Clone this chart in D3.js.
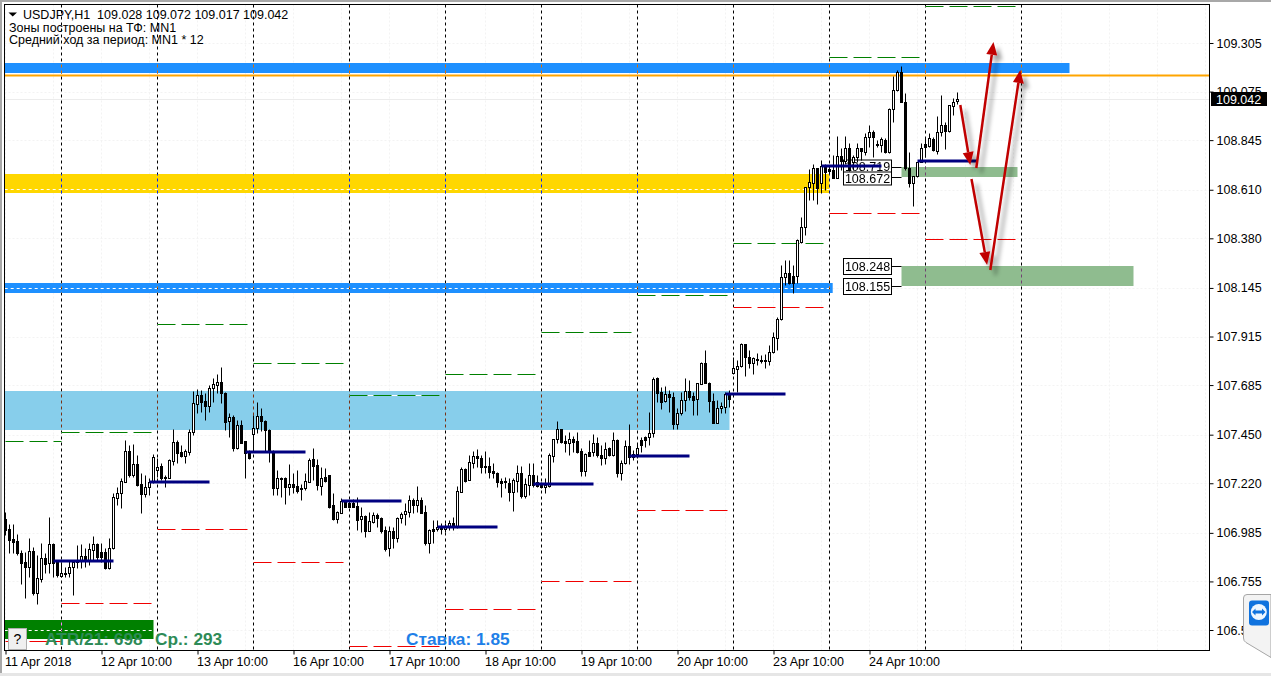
<!DOCTYPE html>
<html><head><meta charset="utf-8">
<script src="https://cdnjs.cloudflare.com/ajax/libs/d3/7.8.5/d3.min.js"></script>
<style>
html,body{margin:0;padding:0;background:#fff;overflow:hidden}
svg{display:block}
text{font-family:"Liberation Sans",Arial,sans-serif;font-size:12.5px;fill:#000;white-space:pre}
</style></head><body>
<svg id="c" width="1271" height="676"></svg>
<script>
const opens=[107.051,107.004,106.956,106.947,106.890,106.847,106.824,106.899,106.700,106.767,106.866,106.843,106.933,106.847,106.781,106.795,106.795,106.824,106.857,106.852,106.876,106.857,106.904,106.933,
106.895,106.895,106.819,106.914,107.151,107.174,107.226,107.373,107.259,107.312,107.217,107.170,107.203,107.226,107.283,107.302,107.250,107.245,107.326,107.416,107.368,107.349,107.368,107.463,
107.595,107.638,107.609,107.586,107.671,107.685,107.700,107.648,107.515,107.534,107.387,107.496,107.420,107.364,107.453,107.482,107.538,107.515,107.472,107.373,107.198,107.245,107.245,107.203,
107.217,107.207,107.198,107.198,107.226,107.335,107.307,107.207,107.250,107.259,107.117,107.051,107.079,107.132,107.127,107.127,107.113,107.051,107.065,106.994,107.037,107.070,107.056,106.999,
106.914,106.994,106.961,107.056,107.075,107.084,107.141,107.117,107.141,107.084,106.937,107.004,107.004,107.013,107.004,107.013,107.032,107.013,107.179,107.288,107.236,107.316,107.349,107.340,
107.297,107.302,107.278,107.269,107.231,107.231,107.222,107.179,107.231,107.269,107.160,107.212,107.259,107.226,107.217,107.203,107.207,107.349,107.430,107.477,107.420,107.411,107.430,107.420,
107.373,107.278,107.368,107.368,107.411,107.354,107.340,107.387,107.354,107.425,107.269,107.316,107.397,107.359,107.359,107.425,107.439,107.439,107.458,107.719,107.652,107.609,107.643,107.629,
107.501,107.552,107.614,107.657,107.633,107.619,107.690,107.790,107.695,107.609,107.505,107.576,107.581,107.643,107.742,107.761,107.776,107.880,107.818,107.790,107.809,107.804,107.804,107.799,
107.842,107.908,107.998,108.197,108.216,108.202,108.202,108.363,108.434,108.623,108.642,108.713,108.642,108.722,108.708,108.704,108.666,108.770,108.746,108.807,108.741,108.765,108.807,108.789,
108.860,108.884,108.827,108.822,108.846,108.789,108.992,109.082,109.168,109.026,108.713,108.642,108.675,108.741,108.827,108.817,108.850,108.794,108.884,108.917,108.888,109.007,109.028];
const highs=[107.084,107.027,107.027,106.980,106.904,106.895,106.961,106.918,106.880,106.937,106.890,107.060,106.937,106.857,106.847,106.824,106.857,106.857,106.928,106.933,106.914,106.937,106.970,106.937,
106.937,106.914,106.961,107.174,107.203,107.245,107.425,107.401,107.406,107.354,107.269,107.259,107.245,107.359,107.340,107.316,107.259,107.335,107.477,107.425,107.401,107.382,107.477,107.657,
107.667,107.662,107.648,107.685,107.719,107.737,107.771,107.652,107.552,107.543,107.520,107.520,107.420,107.378,107.543,107.604,107.576,107.520,107.477,107.378,107.283,107.250,107.250,107.312,
107.269,107.283,107.217,107.269,107.340,107.387,107.335,107.297,107.293,107.259,107.174,107.089,107.151,107.141,107.141,107.146,107.155,107.108,107.070,107.084,107.084,107.079,107.060,107.018,
107.018,107.013,107.060,107.084,107.127,107.165,107.151,107.207,107.155,107.117,107.004,107.046,107.046,107.032,107.032,107.046,107.060,107.207,107.297,107.293,107.354,107.373,107.382,107.354,
107.373,107.345,107.316,107.274,107.245,107.250,107.245,107.245,107.307,107.302,107.245,107.316,107.316,107.259,107.226,107.245,107.364,107.430,107.515,107.477,107.449,107.463,107.444,107.463,
107.387,107.364,107.425,107.453,107.439,107.401,107.416,107.392,107.463,107.430,107.330,107.425,107.501,107.378,107.411,107.439,107.444,107.557,107.723,107.723,107.676,107.681,107.662,107.652,
107.576,107.652,107.719,107.709,107.652,107.695,107.795,107.851,107.700,107.648,107.614,107.604,107.652,107.662,107.818,107.804,107.884,107.880,107.851,107.818,107.837,107.828,107.832,107.875,
107.936,108.008,108.254,108.277,108.277,108.254,108.377,108.481,108.623,108.708,108.732,108.713,108.751,108.732,108.718,108.775,108.865,108.807,108.865,108.831,108.775,108.831,108.807,108.879,
108.917,108.893,108.846,108.860,108.855,108.997,109.149,109.177,109.196,109.068,108.789,108.675,108.741,108.831,108.860,108.879,108.860,108.959,109.059,108.931,109.011,109.044,109.072];
const lows=[106.975,106.890,106.890,106.880,106.743,106.677,106.776,106.691,106.648,106.752,106.795,106.795,106.776,106.776,106.776,106.776,106.776,106.691,106.819,106.819,106.824,106.833,106.857,106.857,
106.847,106.814,106.814,106.909,107.117,107.103,107.226,107.250,107.250,107.207,107.079,107.155,107.165,107.222,107.250,107.236,107.203,107.245,107.307,107.316,107.345,107.316,107.354,107.449,
107.552,107.557,107.520,107.557,107.604,107.648,107.600,107.472,107.439,107.373,107.382,107.411,107.245,107.335,107.368,107.458,107.467,107.368,107.321,107.165,107.165,107.155,107.122,107.165,
107.174,107.174,107.141,107.188,107.226,107.236,107.188,107.165,107.226,107.103,107.046,107.032,107.079,107.108,107.108,107.108,106.999,106.989,106.966,106.994,107.032,107.013,106.985,106.899,
106.876,106.914,106.942,107.032,107.023,107.060,107.079,107.084,107.079,106.928,106.890,106.937,106.994,106.980,106.989,106.999,106.999,107.008,107.179,107.226,107.236,107.293,107.297,107.269,
107.269,107.245,107.245,107.203,107.155,107.198,107.136,107.089,107.179,107.151,107.151,107.165,107.203,107.203,107.198,107.174,107.203,107.321,107.411,107.411,107.368,107.354,107.368,107.364,
107.255,107.255,107.349,107.349,107.345,107.307,107.312,107.349,107.349,107.250,107.236,107.312,107.312,107.330,107.340,107.368,107.392,107.401,107.439,107.604,107.571,107.604,107.557,107.477,
107.477,107.543,107.562,107.614,107.543,107.543,107.690,107.695,107.557,107.505,107.505,107.552,107.552,107.581,107.737,107.652,107.771,107.728,107.766,107.737,107.780,107.790,107.766,107.780,
107.837,107.851,107.993,108.159,108.164,108.121,108.169,108.358,108.396,108.561,108.561,108.543,108.595,108.609,108.689,108.666,108.666,108.704,108.732,108.699,108.704,108.741,108.751,108.775,
108.812,108.765,108.812,108.789,108.784,108.784,108.931,109.078,109.026,108.704,108.623,108.533,108.670,108.741,108.765,108.812,108.794,108.779,108.864,108.803,108.884,108.964,109.017];
const closes=[106.999,106.952,106.942,106.890,106.843,106.824,106.899,106.700,106.771,106.866,106.838,106.933,106.843,106.786,106.795,106.790,106.824,106.847,106.847,106.876,106.857,106.909,106.933,106.871,
106.871,106.819,106.914,107.155,107.174,107.231,107.373,107.259,107.312,107.212,107.170,107.203,107.226,107.345,107.297,107.245,107.245,107.330,107.416,107.364,107.349,107.373,107.463,107.600,
107.638,107.604,107.586,107.671,107.690,107.700,107.648,107.510,107.534,107.387,107.496,107.411,107.364,107.340,107.482,107.538,107.515,107.472,107.368,107.198,107.245,107.241,107.203,107.217,
107.203,107.184,107.193,107.231,107.330,107.302,107.212,107.245,107.231,107.108,107.051,107.084,107.136,107.108,107.108,107.108,107.046,107.065,106.994,107.041,107.070,107.056,106.994,106.909,
106.994,106.961,107.056,107.075,107.089,107.141,107.117,107.141,107.079,106.937,106.999,106.994,107.013,107.004,107.013,107.032,107.013,107.184,107.288,107.231,107.321,107.349,107.340,107.297,
107.302,107.274,107.269,107.226,107.222,107.226,107.179,107.236,107.269,107.160,107.217,107.259,107.212,107.207,107.203,107.212,107.354,107.430,107.477,107.416,107.411,107.430,107.416,107.368,
107.278,107.359,107.349,107.411,107.354,107.340,107.382,107.354,107.425,107.269,107.316,107.397,107.345,107.345,107.387,107.401,107.425,107.458,107.714,107.648,107.604,107.643,107.629,107.501,
107.552,107.614,107.657,107.629,107.614,107.695,107.790,107.695,107.609,107.505,107.576,107.586,107.643,107.619,107.766,107.776,107.880,107.818,107.790,107.813,107.804,107.799,107.799,107.842,
107.913,107.998,108.197,108.216,108.169,108.169,108.372,108.434,108.623,108.647,108.713,108.618,108.722,108.694,108.699,108.666,108.770,108.746,108.807,108.704,108.765,108.807,108.794,108.860,
108.884,108.860,108.822,108.850,108.789,108.992,109.082,109.168,109.026,108.713,108.642,108.675,108.741,108.807,108.812,108.855,108.798,108.884,108.917,108.888,109.011,109.026,109.042];

const priceTicks=[109.305,109.075,108.845,108.610,108.380,108.145,107.915,107.685,107.450,107.220,106.985,106.755,106.525];
const dateTickBars=[0,24,48,72,96,120,144,168,192,216];
const dateLabels=["11 Apr 2018","12 Apr 10:00","13 Apr 10:00","16 Apr 10:00","17 Apr 10:00","18 Apr 10:00","19 Apr 10:00","20 Apr 10:00","23 Apr 10:00","24 Apr 10:00"];
const separatorBars=[14,38,62,86,110,134,158,182,206,230,254];

// zones: first and last bar, upper and lower price
const zoneNames=["resistanceBlue","gold","supportBlue","sky","deepGreen","softGreenUpper","softGreenLower"];
const zoneBars=[[-0.2,266],[-0.2,206],[-0.2,206.8],[-0.2,181],[-0.2,37],[224,253],[224,282]];
const zonePrices=[[109.210,109.163],[108.685,108.595],[108.169,108.121],[107.657,107.472],[106.572,106.482],[108.719,108.672],[108.248,108.155]];
const zoneColors=["#1e90ff","#ffd700","#1e90ff","#87ceeb","#008000","#8fbc8f","#8fbc8f"];
const zoneDashPrice=[null,108.613,108.145,null,106.525,null,null];

const dayStartBars=[0,14,38,62,86,110,134,158,182,206,230];
const dayEndBars=[14,36.5,60.5,84.5,108.5,132.5,156.5,180.5,204.5,228.5,252.5];
const greenLevels=[107.420,107.465,107.974,107.790,107.637,107.738,107.936,108.111,108.358,109.239,109.480];
const redLevels=[106.473,106.653,107.004,106.847,106.447,106.625,106.757,107.094,108.055,108.500,108.377];

const pivotBars=[12,36,60,84,108,132,156,180,204,228];
const pivotLevels=[106.850,107.226,107.368,107.136,107.013,107.217,107.349,107.643,108.722,108.746];
const orangeLevel=109.153;
const boxedPrices=[108.719,108.672,108.248,108.155];
const arrowFrom=[[238.7,109.011],[242.7,108.713],[241.5,108.661],[246.2,108.230]];
const arrowTo=[[241.2,108.727],[247,109.310],[245.4,108.254],[253.7,109.177]];

const svg=d3.select("#c");
const W=1271,H=676,L=4.5,R=1209.5,T=4.5,B=650.5;
const x=d3.scaleLinear().domain([0,100]).range([5.5,405.5]);
const y=d3.scaleLinear().domain([106.525,109.305]).range([630,43]);
const py=p=>Math.round(y(p))+.5;
const defs=svg.append("defs");
defs.append("clipPath").attr("id","plot").append("rect").attr("x",L).attr("y",T).attr("width",R-L).attr("height",B-T);
const sh=defs.append("filter").attr("id","shadow").attr("x","-60%").attr("y","-60%").attr("width","220%").attr("height","220%");
sh.append("feDropShadow").attr("dx",5).attr("dy",5).attr("stdDeviation",2.2).attr("flood-color","#000").attr("flood-opacity",.38);

// window chrome
svg.append("rect").attr("width",W).attr("height",H).attr("fill","#fff");
svg.append("rect").attr("width",W).attr("height",2).attr("fill","#a8a8a8");
svg.append("rect").attr("width",2).attr("height",H).attr("fill","#a8a8a8");
svg.append("rect").attr("y",H-3).attr("width",W).attr("height",3).attr("fill","#e6e6e6");

const plot=svg.append("g").attr("clip-path","url(#plot)");
plot.append("rect").attr("x",L).attr("y",T).attr("width",R-L).attr("height",B-T).attr("fill","#fff");
// faint grid
const gridG=plot.append("g").attr("stroke","#f3f3f3").attr("stroke-dasharray","2,2").attr("fill","none");
d3.range(0,26).forEach(k=>gridG.append("line").attr("x1",x(k*12)).attr("x2",x(k*12)).attr("y1",T).attr("y2",B));
priceTicks.forEach(p=>gridG.append("line").attr("x1",L).attr("x2",R).attr("y1",py(p)).attr("y2",py(p)));

// zones
const zr=plot.append("g");
zoneNames.forEach((n,i)=>{
  const yt=Math.round(y(zonePrices[i][0])),yb=Math.round(y(zonePrices[i][1]));
  zr.append("rect").attr("class",n).attr("x",x(zoneBars[i][0])).attr("width",x(zoneBars[i][1])-x(zoneBars[i][0]))
    .attr("y",yt).attr("height",yb-yt).attr("fill",zoneColors[i]);
  if(zoneDashPrice[i]!==null) zr.append("line").attr("x1",x(zoneBars[i][0])).attr("x2",x(zoneBars[i][1]))
    .attr("y1",py(zoneDashPrice[i])).attr("y2",py(zoneDashPrice[i]))
    .attr("stroke","#fff").attr("stroke-dasharray","3,3");
});
// current price line
plot.append("line").attr("x1",L).attr("x2",R).attr("y1",py(closes[closes.length-1])).attr("y2",py(closes[closes.length-1])).attr("stroke","#ececec");
// orange line
plot.append("line").attr("x1",L).attr("x2",R).attr("y1",py(orangeLevel)).attr("y2",py(orangeLevel)).attr("stroke","#ffa500").attr("stroke-width",2);

// day separators (xor-like)
plot.append("g").style("mix-blend-mode","difference").selectAll("line").data(separatorBars).join("line")
  .attr("x1",d=>x(d)).attr("x2",d=>x(d)).attr("y1",T).attr("y2",B)
  .attr("stroke","#fff").attr("stroke-dasharray","3,3");

// daily range levels
function levels(vals,color){
  const g=plot.append("g");
  vals.forEach((v,i)=>{
    const a=x(dayStartBars[i]),b=x(dayEndBars[i]);
    g.append("line").attr("x1",a).attr("x2",b).attr("y1",py(v)).attr("y2",py(v)).attr("stroke","#fff");
    g.append("line").attr("x1",a).attr("x2",b).attr("y1",py(v)).attr("y2",py(v)).attr("stroke",color).attr("stroke-dasharray","18,6");
  });
}
levels(greenLevels,"#008000");
levels(redLevels,"#f00000");

// connectors and price boxes
function priceBox(p,i,g){
  const yc=Math.round(y(p));
  const offs=[-1,1,0,0];
  const a=g.append("g");
  const bx=843.5, bw=48;
  const mid=yc+offs[i];
  const hh=i>=2?8:6.5;
  a.append("line").attr("x1",bx+bw).attr("x2",x(224)).attr("y1",yc+.5).attr("y2",yc+.5).attr("stroke","#000");
  a.append("rect").attr("x",bx).attr("y",mid-hh+.5).attr("width",bw).attr("height",hh*2).attr("fill","#fff").attr("stroke","#000");
  a.append("text").attr("x",bx+bw/2).attr("y",mid+.5).attr("dy","0.36em").attr("text-anchor","middle").text(d3.format(".3f")(p));
}
const boxBelow=plot.append("g");
priceBox(boxedPrices[0],0,boxBelow);

// candles
const bars=plot.append("g");
opens.forEach((o,i)=>{
  const c=closes[i],up=c>=o,xx=x(i);
  const t=py(Math.max(o,c)),b=py(Math.min(o,c));
  bars.append("line").attr("x1",xx).attr("x2",xx).attr("y1",py(highs[i])).attr("y2",py(lows[i])).attr("stroke","#000");
  bars.append("rect").attr("x",xx-1).attr("width",2).attr("y",t).attr("height",Math.max(b-t,0))
    .attr("fill",up?"#fff":"#000").attr("stroke","#000");
});

// pivots
plot.append("g").selectAll("line").data(pivotBars).join("line")
  .attr("x1",d=>x(d)).attr("x2",d=>x(d+15))
  .attr("y1",(d,i)=>Math.round(y(pivotLevels[i]))).attr("y2",(d,i)=>Math.round(y(pivotLevels[i])))
  .attr("stroke","#000080").attr("stroke-width",3);

// remaining boxes above candles
const boxAbove=plot.append("g");
[1,2,3].forEach(i=>priceBox(boxedPrices[i],i,boxAbove));

// arrows
const arrowG=plot.append("g").attr("filter","url(#shadow)");
arrowFrom.forEach((f,i)=>{
  const x0=x(f[0]),y0=y(f[1]),x1=x(arrowTo[i][0]),y1=y(arrowTo[i][1]);
  const len=Math.hypot(x1-x0,y1-y0),ux=(x1-x0)/len,uy=(y1-y0)/len,hl=13,hw=5.5;
  const bx=x1-ux*hl,by=y1-uy*hl;
  arrowG.append("line").attr("x1",x0).attr("y1",y0).attr("x2",bx).attr("y2",by).attr("stroke","#c00000").attr("stroke-width",2.5);
  arrowG.append("path").attr("d",`M${x1},${y1}L${bx-uy*hw},${by+ux*hw}L${bx+uy*hw},${by-ux*hw}Z`).attr("fill","#c00000");
});

// frame and axes
svg.append("rect").attr("x",L).attr("y",T).attr("width",R-L).attr("height",B-T).attr("fill","none").attr("stroke","#000");
const yAxis=svg.append("g").attr("transform",`translate(${R},0)`)
  .call(d3.axisRight(y).tickValues(priceTicks).tickFormat(d3.format(".3f")).tickSize(4).tickPadding(3));
yAxis.select(".domain").remove();
const xAxis=svg.append("g").attr("transform",`translate(0,${B})`)
  .call(d3.axisBottom(x).tickValues(dateTickBars).tickFormat((d,i)=>dateLabels[i]).tickSize(4).tickPadding(3));
xAxis.select(".domain").remove();
xAxis.selectAll("text").attr("text-anchor","start").attr("dx",-1);
svg.selectAll(".tick text").style("font-family",'"Liberation Sans",Arial,sans-serif').style("font-size","12.5px").attr("fill","#000");

// last price tag
const lastY=Math.round(y(closes[closes.length-1]));
svg.append("rect").attr("x",1211).attr("y",lastY-7).attr("width",56).attr("height",14).attr("fill","#000");
svg.append("text").attr("x",1216).attr("y",lastY).attr("dy","0.36em").style("fill","#fff").text(d3.format(".3f")(closes[closes.length-1]));

// header
svg.append("path").attr("d","M8.5,12.5H17L12.7,16.5Z").attr("fill","#000");
svg.append("text").attr("x",23).attr("y",18.5).text("USDJPY,H1  109.028 109.072 109.017 109.042");
svg.append("text").attr("x",9).attr("y",32).text("Зоны построены на ТФ: MN1");
svg.append("text").attr("x",9).attr("y",44).text("Средний ход за период: MN1 * 12");

// bottom-left notes
svg.append("text").attr("x",45).attr("y",645).style("font-weight","bold").style("font-size","17.3px").style("fill","#2e8b57").text("ATR/21: 698");
svg.append("text").attr("x",155).attr("y",645).style("font-weight","bold").style("font-size","17.3px").style("fill","#2e8b57").text("Ср.: 293");
svg.append("text").attr("x",406).attr("y",645).style("font-weight","bold").style("font-size","17.3px").style("fill","#1e7fe8").text("Ставка: 1.85");

// help button
svg.append("rect").attr("x",8.5).attr("y",628.5).attr("width",18).attr("height",21).attr("fill","#f0f0f0").attr("stroke","#b0b0b0");
svg.append("text").attr("x",17.5).attr("y",644).attr("text-anchor","middle").style("font-size","14px").text("?");

// remote-desktop widget
svg.append("path").attr("d","M1243.5,598Q1243.5,594.5 1247,594.5H1271V657.5L1246,642.5Q1243.5,641 1243.5,638Z").attr("fill","#f3f3f3").attr("stroke","#a6a6a6");
svg.append("rect").attr("x",1249).attr("y",600.5).attr("width",20).attr("height",25).attr("rx",3).attr("fill","#0f72de");
svg.append("circle").attr("cx",1258.8).attr("cy",612).attr("r",8).attr("fill","#eef6ff");
svg.append("path").attr("d","M1252,612L1255.5,608.5V610.6H1262V608.5L1265.5,612L1262,615.5V613.4H1255.5V615.5Z").attr("fill","#0f72de");
</script>
</body></html>
